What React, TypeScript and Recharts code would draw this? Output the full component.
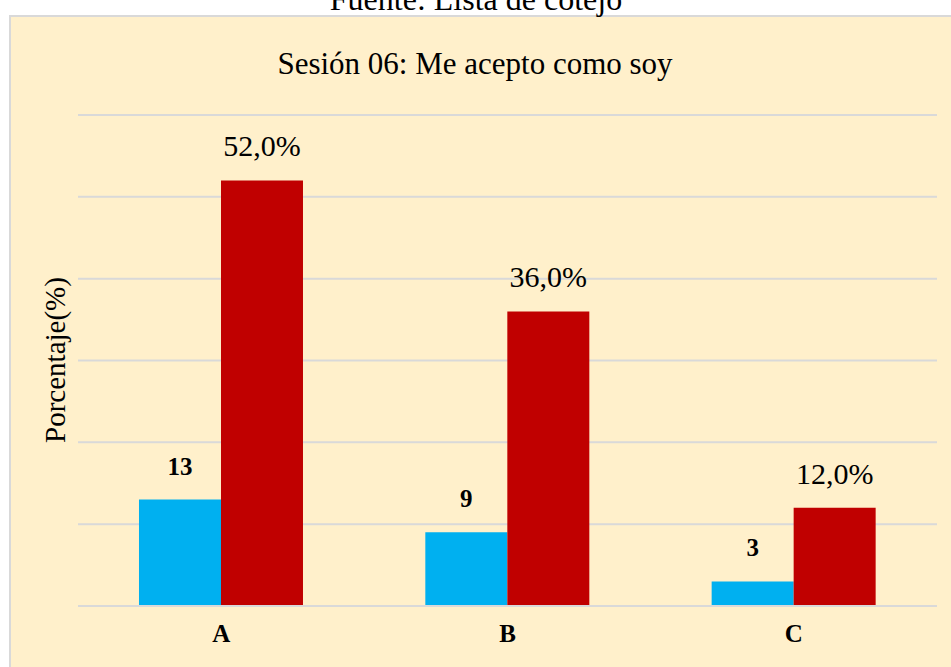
import { BarChart, Bar, XAxis, YAxis, CartesianGrid, LabelList } from 'recharts';

const categories = ['A', 'B', 'C'];
const counts = [13, 9, 3];
const percents = [52, 36, 12];
const yTicks = [0, 10, 20, 30, 40, 50, 60];

const data = categories.map((name, i) => ({ name, count: counts[i], percent: percents[i] }));

const serif = '"Liberation Serif", "Times New Roman", serif';

const fmtPercent = (v: any) => `${Number(v).toFixed(1).replace('.', ',')}%`;

export default function App() {
  return (
    <div style={{ position: 'absolute', left: 0, top: 0, width: 951, height: 667, background: '#fff', overflow: 'hidden' }}>
      <svg width={951} height={667} style={{ position: 'absolute', left: 0, top: 0 }}>
        <rect x={10} y={16} width={960} height={680} fill="#FFF0CB" stroke="#d9d9d9" strokeWidth={2} />
        <text x={476} y={10} textAnchor="middle" fontFamily={serif} fontSize={32} fill="#000">
          Fuente: Lista de cotejo
        </text>
        <text x={475} y={74} textAnchor="middle" fontFamily={serif} fontSize={31} fill="#000">
          Sesión 06: Me acepto como soy
        </text>
        <text
          x={65}
          y={360}
          textAnchor="middle"
          fontFamily={serif}
          fontSize={29}
          fill="#000"
          transform="rotate(-90, 65, 360)"
        >
          Porcentaje(%)
        </text>
      </svg>
      <div style={{ position: 'absolute', left: 0, top: 0 }}>
        <BarChart
          width={951}
          height={667}
          data={data}
          margin={{ top: 115, right: 14, left: 78, bottom: 31 }}
          barCategoryGap="21.3%"
          barGap={0}
        >
          <CartesianGrid vertical={false} stroke="#d9d9d9" strokeWidth={2} />
          <XAxis
            dataKey="name"
            height={30}
            axisLine={{ stroke: '#d9d9d9', strokeWidth: 2 }}
            tickLine={false}
            tickSize={0}
            tickMargin={18}
            tick={{ fill: '#000', fontSize: 25, fontWeight: 'bold', fontFamily: serif }}
          />
          <YAxis hide domain={[0, 60]} ticks={yTicks} />
          <Bar dataKey="count" fill="#00B0F0" isAnimationActive={false}>
            <LabelList
              dataKey="count"
              position="top"
              offset={25}
              fill="#000"
              fontSize={25}
              fontWeight="bold"
              fontFamily={serif}
            />
          </Bar>
          <Bar dataKey="percent" fill="#C00000" isAnimationActive={false}>
            <LabelList
              dataKey="percent"
              position="top"
              offset={24}
              fill="#000"
              fontSize={30}
              fontFamily={serif}
              formatter={fmtPercent}
            />
          </Bar>
        </BarChart>
      </div>
    </div>
  );
}
